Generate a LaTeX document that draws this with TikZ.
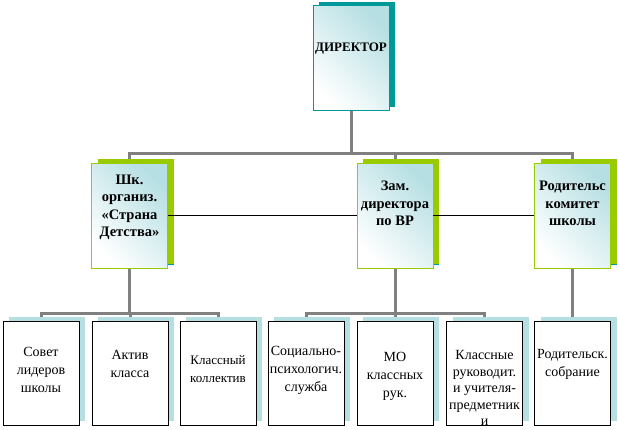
\documentclass[tikz,border=0pt]{standalone}
\usepackage{fontspec}
\setmainfont{Liberation Serif}
\usepackage{xcolor}
\usetikzlibrary{shadows,backgrounds}

\definecolor{tealshade}{HTML}{009999}
\definecolor{greenshade}{HTML}{99CC00}
\definecolor{paleblue}{HTML}{B6DFE3}
\definecolor{grayline}{HTML}{808080}

\tikzset{
  topbox/.style={draw=tealshade, line width=0.8pt, minimum width=76pt, minimum height=105pt,
    inner sep=0pt, bottom color=white, middle color=white!70!paleblue, top color=paleblue, shading angle=-45,
    drop shadow={shadow xshift=6pt, shadow yshift=3pt, fill=tealshade, opacity=1}},
  midbox/.style={topbox, draw=greenshade,
    drop shadow={shadow xshift=6pt, shadow yshift=4pt, fill=greenshade, opacity=1}},
  lowbox/.style={draw=black, line width=0.8pt, fill=white, minimum width=76pt, minimum height=104pt,
    inner sep=0pt,
    drop shadow={shadow xshift=6pt, shadow yshift=4pt, fill=paleblue, opacity=1}},
  boldtext/.style={font=\fontsize{14.5}{17.5}\selectfont\bfseries, align=center, inner sep=0pt},
  plaintext/.style={font=\fontsize{14}{18}\selectfont, align=center, inner sep=0pt},
  trunk/.style={grayline, line width=3pt},
  link/.style={black, line width=0.8pt}
}

\begin{document}
\begin{tikzpicture}[x=1pt, y=-1pt]
    \useasboundingbox (0,0) rectangle (618,429);

    % top
    \node[topbox, label={[boldtext, font=\fontsize{13}{17.5}\selectfont\bfseries, yshift=9pt]center:ДИРЕКТОР}] (dir) at (351,57.5) {};

    % second row
    \node[midbox, label={[boldtext, yshift=8pt]center:{Шк.\\организ.\\«Страна\\Детства»}}] (shk) at (129.5,215.5) {};
    \node[midbox, label={[boldtext, yshift=12pt]center:{Зам.\\директора\\по ВР}}] (zam) at (395,215.5) {};
    \node[midbox, label={[boldtext, yshift=12pt]center:{Родительс\\комитет\\школы}}] (rod) at (572.5,215.5) {};

    % third row
    \node[lowbox, label={[plaintext, yshift=3pt]center:{Совет\\лидеров\\школы}}] (sovet) at (41,373) {};
    \node[lowbox, label={[plaintext, yshift=9pt]center:{Актив\\класса}}] (aktiv) at (130,373) {};
    \node[lowbox, label={[plaintext, font=\fontsize{13}{18}\selectfont, yshift=4pt]center:{Классный\\коллектив}}] (koll) at (218,373) {};
    \node[lowbox, label={[plaintext, yshift=3pt]center:{Социально-\\психологич.\\служба}}] (soc) at (306,373) {};
    \node[lowbox, label={[plaintext, yshift=-3pt]center:{МО\\классных\\рук.}}] (mo) at (395,373) {};
    \node[lowbox, label={[plaintext, font=\fontsize{14}{16.5}\selectfont, yshift=-15pt]center:{Классные\\руководит.\\и учителя-\\предметник\\и}}] (ruk) at (484.5,373) {};
    \node[lowbox, label={[plaintext, yshift=9pt]center:{Родительск.\\собрание}}] (sobr) at (572.5,373) {};

    % connectors
    \begin{scope}[on background layer]
    \coordinate (busa) at (351,153);
    \coordinate (busb) at (129.5,313);
    \coordinate (busc) at (395,313);
    \draw[trunk] (dir.south) -- (busa);
    \draw[trunk] (shk.north) |- (busa) -| (rod.north);
    \draw[trunk] (zam.north) -- (zam.north |- busa);
    \draw[trunk] (shk.south) -- (busb);
    \draw[trunk] (sovet.north) |- (busb) -| (koll.north);
    \draw[trunk] (aktiv.north) -- (aktiv.north |- busb);
    \draw[trunk] (zam.south) -- (busc);
    \draw[trunk] (soc.north) |- (busc) -| (ruk.north);
    \draw[trunk] (mo.north) -- (mo.north |- busc);
    \draw[trunk] (rod.south) -- (sobr.north);
    \end{scope}
    \draw[link] (shk.east) -- (zam.west);
    \draw[link] (zam.east) -- (rod.west);
\end{tikzpicture}
\end{document}
